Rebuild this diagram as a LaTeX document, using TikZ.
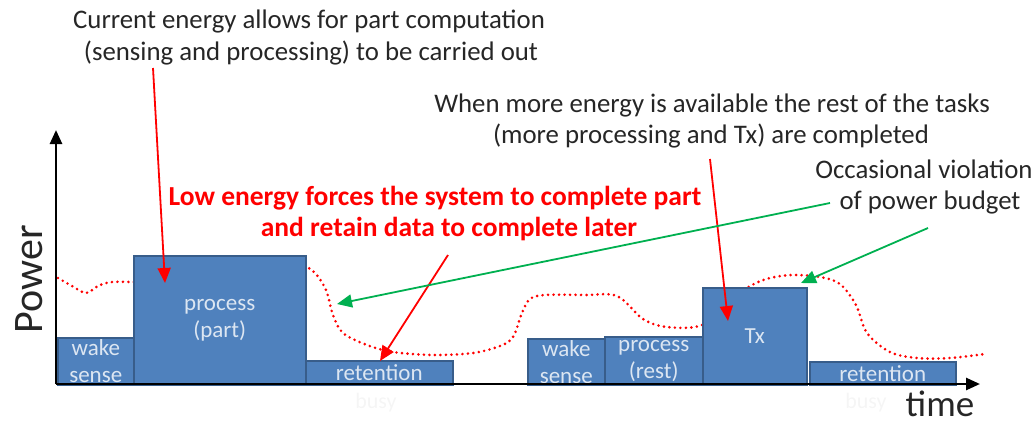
\documentclass[tikz,border=0pt]{standalone}
\usepackage{fontspec}
\setmainfont{Carlito}
\usetikzlibrary{arrows.meta}
\definecolor{boxfill}{HTML}{4F81BD}
\definecolor{boxdraw}{HTML}{385D8A}
\definecolor{boxtext}{HTML}{DCE6F2}
\definecolor{grn}{HTML}{00B050}
\definecolor{txt}{HTML}{262626}
\begin{document}
\begin{tikzpicture}[x=1pt,y=-1pt,
  task/.style={draw=boxdraw, line width=1.5pt, fill=boxfill, text=boxtext,
    anchor=north west, inner sep=0pt, align=center,
    font=\fontsize{23}{27}\selectfont},
  note/.style={anchor=base, inner sep=0pt, text=txt, font=\fontsize{26.8}{32}\selectfont},
  rednote/.style={anchor=base, inner sep=0pt, text=red, font=\fontsize{27.5}{31}\selectfont\bfseries},
  faint/.style={anchor=base, inner sep=0pt, text=black!4, font=\fontsize{22}{26}\selectfont},
  axis/.style={line width=2.6pt, -{Triangle[length=14pt,width=12pt]}},
  redarrow/.style={red, line width=1.8pt, -{Triangle[length=15pt,width=13pt]}},
  grnarrow/.style={grn, line width=1.8pt, -{Triangle[length=15pt,width=13pt]}},
  budget/.style={red, line width=2.9pt, line cap=round, dash pattern=on 0pt off 5.5pt}
]
\useasboundingbox (0,0) rectangle (1036,424);

% power budget curve (behind the tasks)
\draw[budget] plot[smooth, tension=0.55] coordinates {
 (58,278) (72,286) (86,293) (98,286) (112,282) (140,282) (165,281) (178,269)
 (205,265) (273,263) (300,265) (314,272) (326,290) (333,315) (343,333)
 (367,345) (393,352) (433,355) (473,353) (500,346) (513,337) (522,313)
 (530,299) (545,295) (585,295) (617,296) (643,319) (667,327) (702,325)
 (730,300) (752,285) (770,278) (793,275) (820,277) (840,284) (856,305)
 (867,333) (890,352) (917,358) (950,358) (985,354)};

% tasks
\node[task, minimum width=76pt, minimum height=47pt] (ws1) at (57,337) {wake\\sense};
\node[task, minimum width=172pt, minimum height=129pt] (pp) at (133,255) {process\\(part)};
\node[task, minimum width=147pt, minimum height=24pt] (ret1) at (305,360) {retention};
\node[task, minimum width=77pt, minimum height=46pt] (ws2) at (527,338) {wake\\sense};
\node[task, minimum width=98pt, minimum height=48pt] (pr) at (604,336) {process\\(rest)};
\node[task, minimum width=104pt, minimum height=97pt] (tx) at (702,287) {Tx};
\node[task, minimum width=146pt, minimum height=23pt] (ret2) at (809,361) {retention};

% faint labels
\node[faint] (busy1) at (376,408) {busy};
\node[faint] (busy2) at (866,408) {busy};

% axes
\coordinate (origin) at (56,384);
\coordinate (ytip) at (56,130);
\coordinate (xtip) at (980,384);
\draw[axis] (origin) -- (ytip);
\draw[axis] (origin) -- (xtip);
\node[anchor=base, inner sep=0pt, rotate=90, text=txt, font=\fontsize{42}{48}\selectfont] (power) at (42,279) {Power};
\node[anchor=base, inner sep=0pt, text=txt, font=\fontsize{37}{44}\selectfont] (time) at (940,416) {time};

% annotations
\node[note] (c1) at (309,28) {Current energy allows for part computation};
\node[note] (c2) at (311,60) {(sensing and processing) to be carried out};
\node[note] (w1) at (712,112) {When more energy is available the rest of the tasks};
\node[note] (w2) at (711,143) {(more processing and Tx) are completed};
\node[note] (o1) at (924,178) {Occasional violation};
\node[note] (o2) at (930,209) {of power budget};
\node[rednote] (l1) at (435,205) {Low energy forces the system to complete part};
\node[rednote] (l2) at (449,236) {and retain data to complete later};

% arrows
\coordinate (a1s) at (153,68);  \coordinate (a1e) at (165,283);
\coordinate (a2s) at (448,255); \coordinate (a2e) at (380,361);
\coordinate (a3s) at (710,159); \coordinate (a3e) at (728,321);
\coordinate (g1s) at (830,203); \coordinate (g1e) at (337,304);
\coordinate (g2s) at (928,228); \coordinate (g2e) at (801,283);
\draw[redarrow] (a1s) -- (a1e);
\draw[redarrow] (a2s) -- (a2e);
\draw[redarrow] (a3s) -- (a3e);
\draw[grnarrow] (g1s) -- (g1e);
\draw[grnarrow] (g2s) -- (g2e);
\end{tikzpicture}
\end{document}
